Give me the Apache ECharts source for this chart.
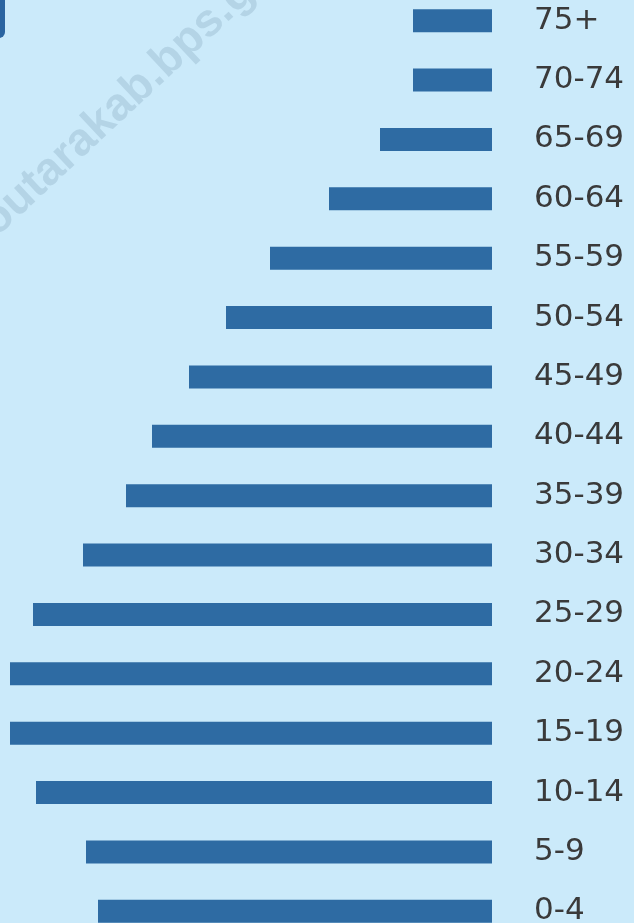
<!DOCTYPE html>
<html>
<head>
<meta charset="utf-8">
<script src="https://cdn.jsdelivr.net/npm/echarts@6/dist/echarts.min.js"></script>
<style>
html,body{margin:0;padding:0;background:#cbeafa;}
#c{width:634px;height:923px;}
</style>
</head>
<body>
<div id="c"></div>
<script>
// Age groups, bottom to top
const ageGroups = ['0-4','5-9','10-14','15-19','20-24','25-29','30-34','35-39','40-44','45-49','50-54','55-59','60-64','65-69','70-74','75+'];
// Population (thousands)
const population = [39.4, 40.6, 45.6, 48.2, 48.2, 45.9, 40.9, 36.6, 34.0, 30.3, 26.6, 22.2, 16.3, 11.2, 7.9, 7.9];
const watermarkPrefix = 'gorontalo';
const watermarkMain = 'utarakab.bps.go.id';

const chart = echarts.init(document.getElementById('c'));
const ang = 43 * Math.PI / 180;
chart.setOption({
  backgroundColor: '#cbeafa',
  animation: false,
  grid: { left: 2, right: 142, top: -9, bottom: -18, containLabel: false, outerBoundsMode: 'none' },
  xAxis: {
    type: 'value', inverse: true, min: 0, max: 49,
    show: false
  },
  yAxis: {
    type: 'category', data: ageGroups, position: 'right',
    axisLine: { show: false }, axisTick: { show: false }, splitLine: { show: false },
    axisLabel: {
      margin: 42, align: 'left', padding: [10, 0, 0, 0],
      fontFamily: 'DejaVu Sans', fontSize: 31, color: '#3a3a3a'
    }
  },
  graphic: [
    {
      type: 'text', x: 24, y: 226, rotation: ang, z: 0, silent: true,
      style: { text: watermarkMain, font: 'bold 46px "Liberation Sans"', fill: '#b4d4e6', align: 'left', verticalAlign: 'bottom' }
    },
    {
      type: 'text', x: 24, y: 226, rotation: ang, z: 0, silent: true,
      style: { text: watermarkPrefix, font: 'bold 46px "Liberation Sans"', fill: '#b4d4e6', align: 'right', verticalAlign: 'bottom' }
    },
    {
      type: 'rect', shape: { x: -10, y: -10, width: 15, height: 48, r: [0, 0, 6, 0] },
      style: { fill: '#2a64a0' }, z: 10, silent: true
    }
  ],
  series: [{
    type: 'bar', data: population, barWidth: 23,
    itemStyle: { color: '#2e6ba3' }
  }]
});
</script>
</body>
</html>
